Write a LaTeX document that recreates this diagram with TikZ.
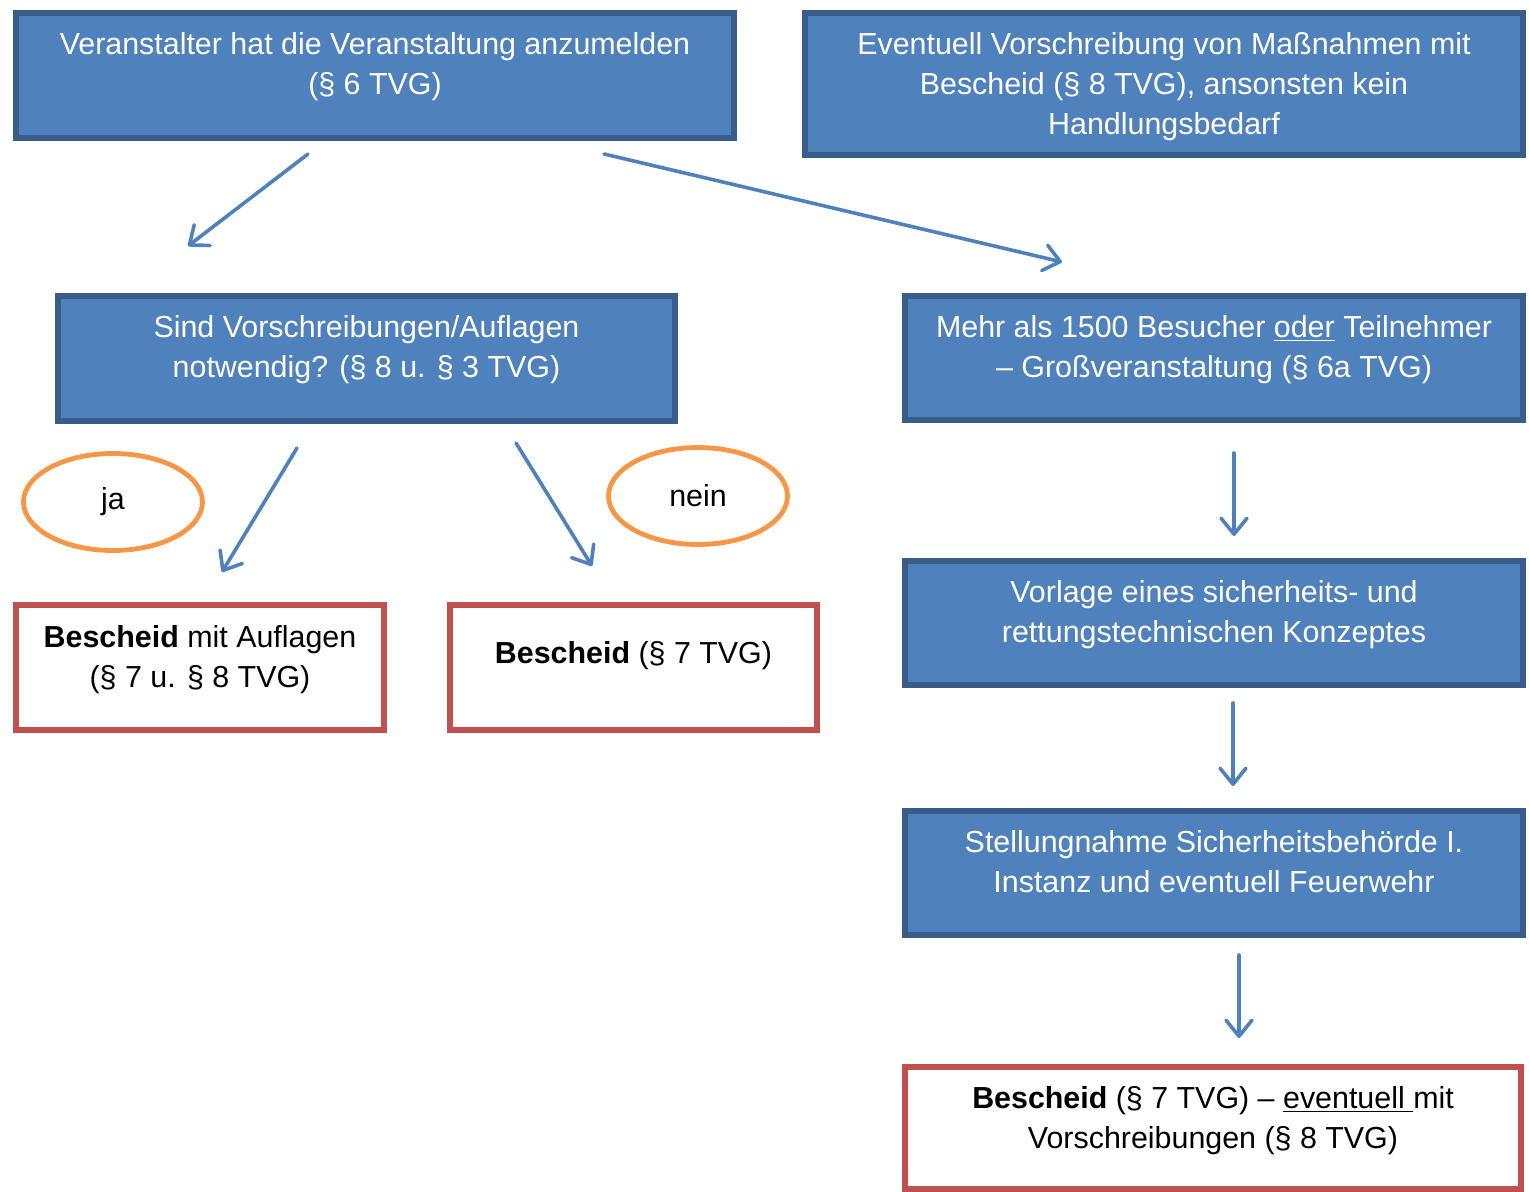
\documentclass[tikz,border=0pt]{standalone}
\usepackage{fontspec}
\setmainfont{Liberation Sans}
\usetikzlibrary{positioning,fit,shapes.geometric,arrows.meta}

\definecolor{boxblue}{RGB}{79,129,189}
\definecolor{boxedge}{RGB}{56,93,138}
\definecolor{boxred}{RGB}{192,80,77}
\definecolor{ovalorange}{RGB}{247,150,70}

\tikzset{every picture/.style={line width=0.75pt}}
\tikzset{
  bluebox/.style={draw=boxedge, fill=boxblue, line width=3pt, inner sep=0pt},
  redbox/.style={draw=boxred, line width=3pt, inner sep=0pt},
  boxtext/.style={align=center, inner sep=0pt, font=\fontsize{15.2}{20}\selectfont},
  oval/.style={ellipse, draw=ovalorange, line width=2.4pt, minimum width=89.5pt, minimum height=48.5pt, inner sep=0pt, font=\fontsize{15.2}{20}\selectfont},
  flow/.style={draw=boxblue, line width=1.8pt, line cap=round, -{Straight Barb[length=8pt,width=13pt,round]}}
}

\begin{document}
\begin{tikzpicture}[x=0.5pt,y=0.5pt,yscale=-1,xscale=1]
\useasboundingbox (0,0) rectangle (1529,1192);

%Shape: Rectangle [anmeldung]
\node[bluebox, fit={(16,13) (734,138)}] (anmeldung) {};
%Shape: Rectangle [massnahmen]
\node[bluebox, fit={(805,13) (1523,155)}] (massnahmen) {};
%Shape: Rectangle [auflagen]
\node[bluebox, fit={(58,296) (675,421)}] (auflagen) {};
%Shape: Rectangle [gross]
\node[bluebox, fit={(905,296) (1523,420)}] (gross) {};
%Shape: Rectangle [konzept]
\node[bluebox, fit={(905,561) (1523,685)}] (konzept) {};
%Shape: Rectangle [stellung]
\node[bluebox, fit={(905,811) (1523,935)}] (stellung) {};
%Shape: Rectangle [bescheidja]
\node[redbox, fit={(16,605) (384,730)}] (bescheidja) {};
%Shape: Rectangle [bescheidnein]
\node[redbox, fit={(450,605) (817,730)}] (bescheidnein) {};
%Shape: Rectangle [bescheidgross]
\node[redbox, fit={(905,1067) (1521,1189)}] (bescheidgross) {};

%Shape: Ellipse [ja]
\node[oval] (ja) at (113,502) {ja};
%Shape: Ellipse [nein]
\node[oval] (nein) at (698,496) {nein};

%Straight Lines
\coordinate (anm-l) at (308,154);
\coordinate (auf-t) at (188,246);
\draw[flow] (anm-l) -- (auf-t);
\coordinate (anm-r) at (604,154);
\coordinate (gro-t) at (1062,262);
\draw[flow] (anm-r) -- (gro-t);
\coordinate (auf-l) at (297,448);
\coordinate (bja-t) at (222,572);
\draw[flow] (auf-l) -- (bja-t);
\coordinate (auf-r) at (516,443);
\coordinate (bne-t) at (592,566);
\draw[flow] (auf-r) -- (bne-t);
\coordinate (gro-b) at (1234,453);
\coordinate (kon-t) at (1234,536);
\draw[flow] (gro-b) -- (kon-t);
\coordinate (kon-b) at (1233,703);
\coordinate (ste-t) at (1233,786);
\draw[flow] (kon-b) -- (ste-t);
\coordinate (ste-b) at (1239,955);
\coordinate (bgr-t) at (1239,1038);
\draw[flow] (ste-b) -- (bgr-t);

% Text Node
\node[boxtext, text=white, below=11pt of anmeldung.north] (anmeldung-t) {Veranstalter hat die Veranstaltung anzumelden\\(§ 6 TVG)};
% Text Node
\node[boxtext, text=white, below=11pt of massnahmen.north] (massnahmen-t) {Eventuell Vorschreibung von Maßnahmen mit\\Bescheid (§ 8 TVG), ansonsten kein\\Handlungsbedarf};
% Text Node
\node[boxtext, text=white, below=11pt of auflagen.north] (auflagen-t) {Sind Vorschreibungen/Auflagen\\notwendig? (§ 8 u. § 3 TVG)};
% Text Node
\node[boxtext, text=white, below=11pt of gross.north] (gross-t) {Mehr als 1500 Besucher \underline{oder} Teilnehmer\\– Großveranstaltung (§ 6a TVG)};
% Text Node
\node[boxtext, text=white, below=11pt of konzept.north] (konzept-t) {Vorlage eines sicherheits- und\\rettungstechnischen Konzeptes};
% Text Node
\node[boxtext, text=white, below=11pt of stellung.north] (stellung-t) {Stellungnahme Sicherheitsbehörde I.\\Instanz und eventuell Feuerwehr};
% Text Node
\node[boxtext, below=11.5pt of bescheidja.north] (bescheidja-t) {\textbf{Bescheid} mit Auflagen\\(§ 7 u. § 8 TVG)};
% Text Node
\node[boxtext, below=19.5pt of bescheidnein.north] (bescheidnein-t) {\textbf{Bescheid} (§ 7 TVG)};
% Text Node
\node[boxtext, below=11pt of bescheidgross.north] (bescheidgross-t) {\textbf{Bescheid} (§ 7 TVG) – \underline{eventuell\ }mit\\Vorschreibungen (§ 8 TVG)};

\end{tikzpicture}
\end{document}
